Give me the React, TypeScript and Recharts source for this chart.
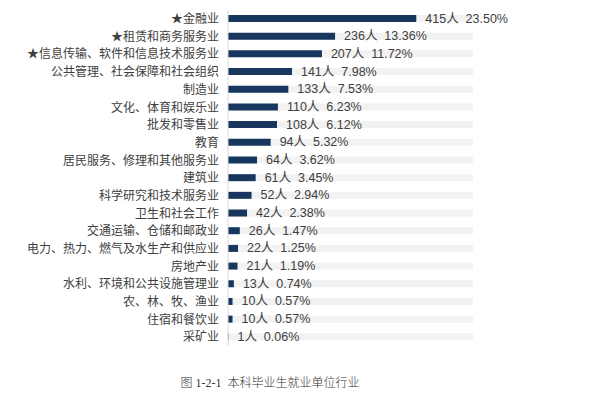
import React from 'react';
import { BarChart, Bar, XAxis, YAxis, LabelList } from 'recharts';

const industries = [
  '★金融业',
  '★租赁和商务服务业',
  '★信息传输、软件和信息技术服务业',
  '公共管理、社会保障和社会组织',
  '制造业',
  '文化、体育和娱乐业',
  '批发和零售业',
  '教育',
  '居民服务、修理和其他服务业',
  '建筑业',
  '科学研究和技术服务业',
  '卫生和社会工作',
  '交通运输、仓储和邮政业',
  '电力、热力、燃气及水生产和供应业',
  '房地产业',
  '水利、环境和公共设施管理业',
  '农、林、牧、渔业',
  '住宿和餐饮业',
  '采矿业',
];

const counts = [415, 236, 207, 141, 133, 110, 108, 94, 64, 61, 52, 42, 26, 22, 21, 13, 10, 10, 1];
const percents = ['23.50%', '13.36%', '11.72%', '7.98%', '7.53%', '6.23%', '6.12%', '5.32%', '3.62%', '3.45%', '2.94%', '2.38%', '1.47%', '1.25%', '1.19%', '0.74%', '0.57%', '0.57%', '0.06%'];

const caption = '图 1-2-1  本科毕业生就业单位行业';

const data = industries.map((name, i) => ({
  name,
  count: counts[i],
  label: `${counts[i]}人  ${percents[i]}`,
}));

const fontFamily = 'Arial, "Liberation Sans", "Noto Sans CJK SC", sans-serif';

const renderLabel = (props: any) => {
  const { x, y, width, height, index } = props;
  return (
    <text
      x={Number(x) + Number(width) + 9}
      y={Number(y) + Number(height) / 2}
      dominantBaseline="central"
      fontSize={12.5}
      fill="#404040"
      fontFamily={fontFamily}
      style={{ whiteSpace: 'pre' }}
    >
      {data[index].label}
    </text>
  );
};

export default function App() {
  return (
    <div style={{ position: 'fixed', left: 0, top: 0, width: 605, height: 398, background: '#fff' }}>
      <BarChart
        width={605}
        height={350}
        layout="vertical"
        data={data}
        margin={{ top: 10, right: 132, left: 0, bottom: 4 }}
        barCategoryGap={0}
      >
        <XAxis type="number" hide domain={[0, 540]} />
        <YAxis
          type="category"
          dataKey="name"
          width={228}
          tickLine={false}
          tickSize={0}
          tickMargin={9}
          axisLine={{ stroke: '#d9d9d9' }}
          interval={0}
          tick={{ fontSize: 12, fill: '#404040', fontFamily }}
        />
        <Bar
          dataKey="count"
          fill="#17375e"
          barSize={7}
          background={{ fill: '#f2f2f2' }}
          isAnimationActive={false}
        >
          <LabelList dataKey="count" content={renderLabel} />
        </Bar>
      </BarChart>
      <div
        style={{
          position: 'absolute',
          top: 373,
          left: 0,
          width: 540,
          textAlign: 'center',
          fontSize: 12,
          color: '#333',
          fontFamily: '"Liberation Serif", "Noto Sans CJK SC", serif',
          fontWeight: 300,
          whiteSpace: 'pre',
        }}
      >
        {caption}
      </div>
    </div>
  );
}
